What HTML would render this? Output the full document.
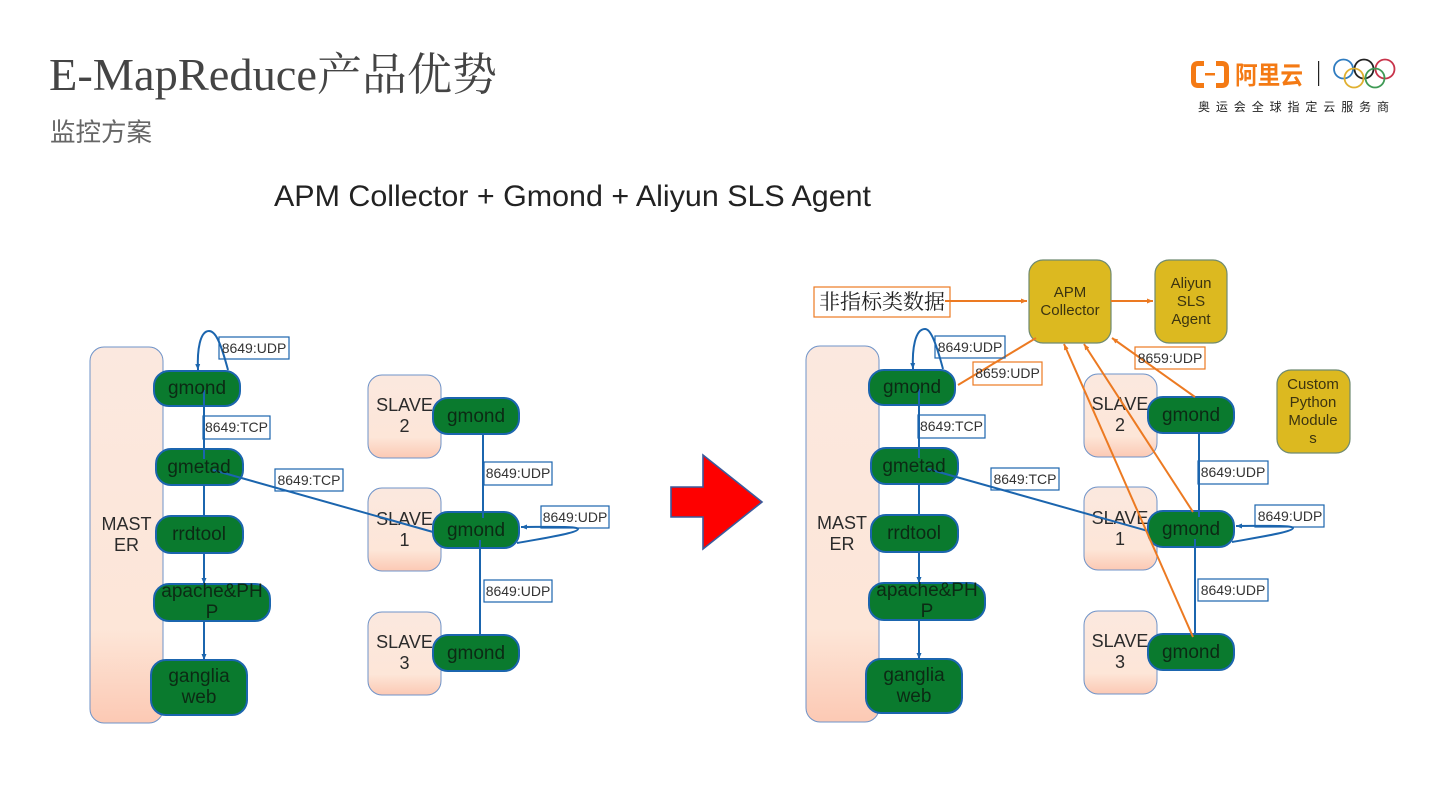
<!DOCTYPE html>
<html>
<head>
<meta charset="utf-8">
<style>
html,body{margin:0;padding:0;background:#fff;width:1440px;height:810px;overflow:hidden}
svg{display:block}
text{font-family:"Liberation Sans","Noto Sans CJK SC",sans-serif}
.n{font-size:19px;fill:#0c2a14;text-anchor:middle}
.m{font-size:18px;fill:#2b2b2b;text-anchor:middle}
.l{font-size:14px;fill:#333;text-anchor:middle}
.y{font-size:15px;fill:#3c3410;text-anchor:middle}
.node{fill:#0a7a2e;stroke:#1b65ae;stroke-width:2}
.sl{fill:url(#g);stroke:#6f93c8;stroke-width:1}
.bl{fill:none;stroke:#1b65ae;stroke-width:1.2}
.ol{fill:none;stroke:#ec7a22;stroke-width:1.2}
.w{fill:none;stroke:#1b65ae;stroke-width:2}
.o{fill:none;stroke:#ec7a22;stroke-width:2}
.gold{fill:#dcb920;stroke:#6f8a70;stroke-width:1.2}
</style>
</head>
<body>
<svg width="1440" height="810" viewBox="0 0 1440 810" xmlns="http://www.w3.org/2000/svg">
<defs>
<linearGradient id="g" x1="0" y1="0" x2="0" y2="1">
<stop offset="0" stop-color="#fbe8df"/><stop offset=".75" stop-color="#fde6d8"/><stop offset="1" stop-color="#fcc9b4"/>
</linearGradient>
<marker id="ab" markerUnits="userSpaceOnUse" markerWidth="7" markerHeight="7" refX="6" refY="3" orient="auto"><path d="M0 0.5L6 3L0 5.500z" fill="#1b65ae"/></marker>
<marker id="ao" markerUnits="userSpaceOnUse" markerWidth="7" markerHeight="7" refX="6" refY="3" orient="auto"><path d="M0 0.5L6 3L0 5.500z" fill="#ec7a22"/></marker>
</defs>

<!-- Title -->
<text x="49" y="90" style="font-family:'Liberation Serif','Noto Serif CJK SC',serif;font-size:45px;fill:#444" textLength="268" lengthAdjust="spacingAndGlyphs">E-MapReduce</text>
<text x="317" y="90" style="font-family:'Noto Serif CJK SC',serif;font-size:45px;fill:#444">产品优势</text>
<text x="50" y="141" style="font-family:'Noto Sans CJK SC',sans-serif;font-size:25.5px;fill:#666">监控方案</text>
<text x="274" y="206" style="font-size:30px;fill:#222" textLength="597" lengthAdjust="spacingAndGlyphs">APM Collector + Gmond + Aliyun SLS Agent</text>

<!-- Logo -->
<path d="M1204 63.500h-6q-4.500 0-4.500 4.500v13q0 4.500 4.500 4.500h6M1216 63.500h6q4.500 0 4.500 4.500v13q0 4.500-4.500 4.500h-6" fill="none" stroke="#f47a14" stroke-width="5"/>
<rect x="1205" y="73" width="10" height="2.500" fill="#f47a14"/>
<text x="1235" y="84" style="font-size:25px;font-weight:bold;fill:#f47a14" textLength="68" lengthAdjust="spacingAndGlyphs">阿里云</text>
<rect x="1318" y="61" width="1.200" height="25" fill="#222"/>
<g fill="none" stroke-width="1.800">
<circle cx="1343.500" cy="69" r="9.500" stroke="#2f7cc0"/>
<circle cx="1364" cy="69" r="9.500" stroke="#222"/>
<circle cx="1385" cy="69" r="9.500" stroke="#c8334a"/>
<circle cx="1354" cy="78" r="9.500" stroke="#e0b030"/>
<circle cx="1375" cy="78" r="9.500" stroke="#3f9a55"/>
</g>
<text x="1198" y="111" style="font-size:12px;fill:#222" textLength="191" lengthAdjust="spacing">奥运会全球指定云服务商</text>

<!-- Red arrow -->
<path d="M671 487H703V455L762 502L703 549V517H671Z" fill="#fe0000" stroke="#3a5a9c" stroke-width="1.600"/>

<!-- LEFT DIAGRAM -->
<rect class="sl" x="90" y="347" width="73" height="376" rx="14"/>
<text class="m" x="126.500" y="530">MAST</text><text class="m" x="126.500" y="551">ER</text>
<rect class="sl" x="368" y="375" width="73" height="83" rx="14"/>
<text class="m" x="404.500" y="411">SLAVE</text><text class="m" x="404.500" y="432">2</text>
<rect class="sl" x="368" y="488" width="73" height="83" rx="14"/>
<text class="m" x="404.500" y="525">SLAVE</text><text class="m" x="404.500" y="546">1</text>
<rect class="sl" x="368" y="612" width="73" height="83" rx="14"/>
<text class="m" x="404.500" y="648">SLAVE</text><text class="m" x="404.500" y="669">3</text>

<rect class="node" x="154" y="371" width="86" height="35" rx="15"/>
<rect class="node" x="156" y="449" width="87" height="36" rx="15"/>
<rect class="node" x="156" y="516" width="87" height="37" rx="15"/>
<rect class="node" x="154" y="584" width="116" height="37" rx="15"/>
<rect class="node" x="151" y="660" width="96" height="55" rx="15"/>
<rect class="node" x="433" y="398" width="86" height="36" rx="15"/>
<rect class="node" x="433" y="512" width="86" height="36" rx="15"/>
<rect class="node" x="433" y="635" width="86" height="36" rx="15"/>

<path class="w" d="M204 390V459M204 485V516"/>
<path class="w" d="M204 553V584" marker-end="url(#ab)"/>
<path class="w" d="M204 621V660" marker-end="url(#ab)"/>
<path class="w" d="M213 470L433 532"/>
<path class="w" d="M228 370C220 340 215 331 209 331C200 331 197 350 198 370" marker-end="url(#ab)"/>
<path class="w" d="M483 433V518"/>
<path class="w" d="M480 540V635"/>
<path class="w" d="M517 543C545 538 578 533 578 529C578 526 545 527 521 527" marker-end="url(#ab)"/>

<text class="n" x="197" y="394">gmond</text>
<text class="n" x="199" y="473">gmetad</text>
<text class="n" x="199" y="540">rrdtool</text>
<text class="n" x="212" y="597">apache&amp;PH</text><text class="n" x="212" y="618">P</text>
<text class="n" x="199" y="682">ganglia</text><text class="n" x="199" y="703">web</text>
<text class="n" x="476" y="422">gmond</text>
<text class="n" x="476" y="536">gmond</text>
<text class="n" x="476" y="659">gmond</text>

<rect class="bl" x="219" y="337" width="70" height="22"/><text class="l" x="254" y="353">8649:UDP</text>
<rect class="bl" x="203" y="416" width="67" height="23"/><text class="l" x="236.500" y="432">8649:TCP</text>
<rect class="bl" x="275" y="469" width="68" height="22"/><text class="l" x="309" y="485">8649:TCP</text>
<rect class="bl" x="484" y="462" width="68" height="23"/><text class="l" x="518" y="478">8649:UDP</text>
<rect class="bl" x="541" y="506" width="68" height="22"/><text class="l" x="575" y="522">8649:UDP</text>
<rect class="bl" x="484" y="580" width="68" height="22"/><text class="l" x="518" y="596">8649:UDP</text>

<!-- RIGHT DIAGRAM -->
<rect class="sl" x="806" y="346" width="73" height="376" rx="14"/>
<text class="m" x="842" y="529">MAST</text><text class="m" x="842" y="550">ER</text>
<rect class="sl" x="1084" y="374" width="73" height="83" rx="14"/>
<text class="m" x="1120" y="410">SLAVE</text><text class="m" x="1120" y="431">2</text>
<rect class="sl" x="1084" y="487" width="73" height="83" rx="14"/>
<text class="m" x="1120" y="524">SLAVE</text><text class="m" x="1120" y="545">1</text>
<rect class="sl" x="1084" y="611" width="73" height="83" rx="14"/>
<text class="m" x="1120" y="647">SLAVE</text><text class="m" x="1120" y="668">3</text>

<rect class="gold" x="1029" y="260" width="82" height="83" rx="14"/>
<text class="y" x="1070" y="297">APM</text><text class="y" x="1070" y="315">Collector</text>
<rect class="gold" x="1155" y="260" width="72" height="83" rx="14"/>
<text class="y" x="1191" y="288">Aliyun</text><text class="y" x="1191" y="306">SLS</text><text class="y" x="1191" y="324">Agent</text>
<rect class="gold" x="1277" y="370" width="73" height="83" rx="14"/>
<text class="y" x="1313" y="389">Custom</text><text class="y" x="1313" y="407">Python</text><text class="y" x="1313" y="425">Module</text><text class="y" x="1313" y="443">s</text>

<rect class="node" x="869" y="370" width="86" height="35" rx="15"/>
<rect class="node" x="871" y="448" width="87" height="36" rx="15"/>
<rect class="node" x="871" y="515" width="87" height="37" rx="15"/>
<rect class="node" x="869" y="583" width="116" height="37" rx="15"/>
<rect class="node" x="866" y="659" width="96" height="54" rx="15"/>
<rect class="node" x="1148" y="397" width="86" height="36" rx="15"/>
<rect class="node" x="1148" y="511" width="86" height="36" rx="15"/>
<rect class="node" x="1148" y="634" width="86" height="36" rx="15"/>

<path class="w" d="M919 389V458M919 484V515"/>
<path class="w" d="M919 552V583" marker-end="url(#ab)"/>
<path class="w" d="M919 620V659" marker-end="url(#ab)"/>
<path class="w" d="M928 469L1148 531"/>
<path class="w" d="M943 369C935 339 930 329 925 329C915 329 912 349 913 369" marker-end="url(#ab)"/>
<path class="w" d="M1199 432V517"/>
<path class="w" d="M1195 539V634"/>
<path class="w" d="M1232 542C1260 537 1293 532 1293 528C1293 525 1260 526 1236 526" marker-end="url(#ab)"/>

<text class="n" x="912" y="393">gmond</text>
<text class="n" x="914" y="472">gmetad</text>
<text class="n" x="914" y="539">rrdtool</text>
<text class="n" x="927" y="596">apache&amp;PH</text><text class="n" x="927" y="617">P</text>
<text class="n" x="914" y="681">ganglia</text><text class="n" x="914" y="702">web</text>
<text class="n" x="1191" y="421">gmond</text>
<text class="n" x="1191" y="535">gmond</text>
<text class="n" x="1191" y="658">gmond</text>

<path class="o" d="M1193 512L1084 344" marker-end="url(#ao)"/>
<path class="o" d="M1193 637L1064 344" marker-end="url(#ao)"/>
<path class="o" d="M958 385L1036 338"/>
<path class="o" d="M1195 397L1112 338" marker-end="url(#ao)"/>
<path class="o" d="M1111 301H1153" marker-end="url(#ao)"/>

<rect class="bl" x="935" y="336" width="70" height="22"/><text class="l" x="970" y="352">8649:UDP</text>
<rect class="bl" x="918" y="415" width="67" height="23"/><text class="l" x="951.500" y="431">8649:TCP</text>
<rect class="bl" x="991" y="468" width="68" height="22"/><text class="l" x="1025" y="484">8649:TCP</text>
<rect class="bl" x="1198" y="461" width="70" height="23"/><text class="l" x="1233" y="477">8649:UDP</text>
<rect class="bl" x="1255" y="505" width="69" height="22"/><text class="l" x="1290" y="521">8649:UDP</text>
<rect class="bl" x="1198" y="579" width="70" height="22"/><text class="l" x="1233" y="595">8649:UDP</text>
<rect class="ol" x="973" y="362" width="69" height="23"/><text class="l" x="1007.500" y="378">8659:UDP</text>
<rect class="ol" x="1135" y="347" width="70" height="22"/><text class="l" x="1170" y="363">8659:UDP</text>

<rect class="ol" x="814" y="287" width="136" height="30"/>
<text x="819" y="309" style="font-family:'Noto Serif CJK SC',serif;font-size:21px;fill:#222" textLength="126" lengthAdjust="spacing">非指标类数据</text>
<path class="o" d="M945 301H1027" marker-end="url(#ao)"/>
</svg>
</body>
</html>
